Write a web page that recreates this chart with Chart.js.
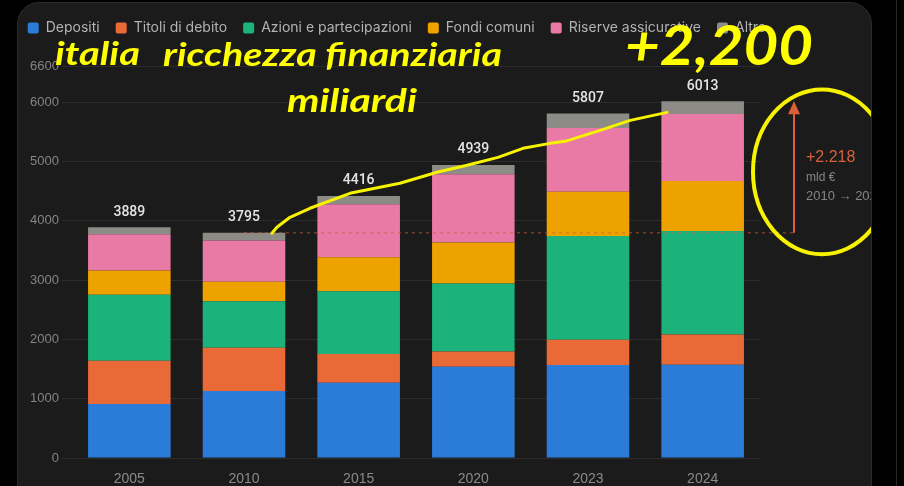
<!DOCTYPE html>
<html lang="it">
<head>
<meta charset="utf-8">
<title>Italia ricchezza finanziaria</title>
<script src="https://cdn.jsdelivr.net/npm/chart.js@4.4.1/dist/chart.umd.min.js"></script>
<style>
  html, body { margin: 0; padding: 0; background: #000; width: 904px; height: 486px; overflow: hidden; }
  #card { position: absolute; left: 17px; top: 2px; width: 853px; height: 510px; background: #1b1b1b;
          border: 1px solid #2b2b2b; border-radius: 22px; overflow: hidden; }
  #wrap { position: absolute; left: -18px; top: -3px; width: 904px; height: 486px; }
  #overlay { position: absolute; left: 0; top: 0; width: 904px; height: 486px; pointer-events: none; }
  .note { position: absolute; color: #ffff00; font-family: Lato, "Open Sans", sans-serif; font-weight: 700;
          font-style: italic; white-space: nowrap; line-height: 1; transform-origin: 0 0; }
  #edge { position: absolute; left: 896px; top: 0; width: 1px; height: 486px; background: #262626; }
</style>
</head>
<body>
<div id="card">
  <div id="wrap"><canvas id="wealthChart"></canvas></div>
</div>
<div id="edge"></div>
<div id="overlay">
  <div class="note" data-w="85" style="left:55px; top:37px; font-size:32px;">italia</div>
  <div class="note" data-w="339" style="left:163px; top:38px; font-size:32px;">ricchezza finanziaria</div>
  <div class="note" data-w="130" style="left:287px; top:84px; font-size:32px;">miliardi</div>
  <div class="note" data-w="188" style="left:625px; top:16px; font-size:56px;">+2,200</div>
</div>
<script>
// Ricchezza finanziaria delle famiglie, miliardi di euro
const years = ['2005', '2010', '2015', '2020', '2023', '2024'];
const depositi = [910, 1128, 1268, 1538, 1566, 1571];
const titoli = [730, 729, 483, 258, 426, 511];
const azioni = [1110, 786, 1060, 1145, 1751, 1745];
const fondi = [410, 326, 573, 690, 746, 842];
const riserve = [610, 695, 892, 1150, 1072, 1128];
const altro = [119, 131, 140, 158, 246, 216];
const totali = [3889, 3795, 4416, 4939, 5807, 6013];
const yTicks = [0, 1000, 2000, 3000, 4000, 5000, 6000, 6600];

const seriesNames = ['Depositi', 'Titoli di debito', 'Azioni e partecipazioni', 'Fondi comuni', 'Riserve assicurative', 'Altro'];
const seriesColors = ['#2b7bd9', '#e96a37', '#1bb27b', '#eea200', '#e97aa6', '#8c8b86'];

// growth note, 2010 -> 2024
const deltaText = '+2.218';
const deltaUnit = 'mld €';
const deltaSpan = '2010 → 2024';

// hand-drawn yellow marks: [category position, value]
const scribble = [
    [1.243, 3788], [1.287, 3889], [1.401, 4057], [1.575, 4209], [1.924, 4461],
    [2.360, 4630], [2.683, 4815], [2.945, 4933], [3.215, 5067], [3.433, 5219],
    [3.669, 5303], [3.800, 5337], [4.106, 5522], [4.368, 5690], [4.690, 5825]
];
const ellipseRange = [3434, 6212];

const values = [depositi, titoli, azioni, fondi, riserve, altro];

// totals above each bar
const totalsPlugin = {
    id: 'totals',
    afterDatasetsDraw(chart) {
        const ctx = chart.ctx;
        const meta = chart.getDatasetMeta(chart.data.datasets.length - 1);
        ctx.save();
        ctx.font = '500 14px Roboto';
        ctx.fillStyle = '#e4e4e4';
        ctx.textAlign = 'center';
        ctx.textBaseline = 'middle';
        meta.data.forEach((bar, i) => ctx.fillText(totali[i], bar.x, bar.y - 15));
        ctx.restore();
    }
};

// dashed baseline, arrow, note and the yellow marks
const notesPlugin = {
    id: 'notes',
    afterDraw(chart) {
        const ctx = chart.ctx;
        const x = chart.scales.x;
        const y = chart.scales.y;
        const area = chart.chartArea;
        const arrowX = area.right + 34;
        const baseY = y.getPixelForValue(totali[1]);
        const topY = y.getPixelForValue(totali[5]);

        ctx.save();
        ctx.strokeStyle = 'rgba(205, 95, 55, 0.75)';
        ctx.lineWidth = 1;
        ctx.setLineDash([3, 4]);
        ctx.beginPath();
        ctx.moveTo(x.getPixelForValue(1), baseY);
        ctx.lineTo(arrowX, baseY);
        ctx.stroke();
        ctx.setLineDash([]);

        ctx.strokeStyle = '#d9603a';
        ctx.fillStyle = '#d9603a';
        ctx.lineWidth = 2;
        ctx.beginPath();
        ctx.moveTo(arrowX, baseY);
        ctx.lineTo(arrowX, topY + 12);
        ctx.stroke();
        ctx.beginPath();
        ctx.moveTo(arrowX, topY);
        ctx.lineTo(arrowX - 6, topY + 13);
        ctx.lineTo(arrowX + 6, topY + 13);
        ctx.closePath();
        ctx.fill();

        ctx.textAlign = 'left';
        ctx.textBaseline = 'middle';
        ctx.font = '16px "Liberation Sans"';
        ctx.fillText(deltaText, arrowX + 12, topY + 56);
        ctx.fillStyle = '#858585';
        ctx.font = '12px "Liberation Sans"';
        ctx.fillText(deltaUnit, arrowX + 12, topY + 76);
        ctx.font = '13px "Liberation Sans"';
        ctx.fillText(deltaSpan, arrowX + 12, topY + 95);

        ctx.strokeStyle = '#f7f300';
        ctx.lineWidth = 4;
        const eTop = y.getPixelForValue(ellipseRange[1]);
        const eBottom = y.getPixelForValue(ellipseRange[0]);
        ctx.beginPath();
        ctx.ellipse(area.right + 62, (eTop + eBottom) / 2, 69, (eBottom - eTop) / 2, 0, 0, Math.PI * 2);
        ctx.stroke();

        ctx.lineWidth = 3;
        ctx.lineJoin = 'round';
        ctx.lineCap = 'round';
        ctx.beginPath();
        scribble.forEach(([c, v], i) => {
            const px = x.getPixelForValue(c);
            const py = y.getPixelForValue(v);
            if (i === 0) ctx.moveTo(px, py); else ctx.lineTo(px, py);
        });
        ctx.stroke();
        ctx.restore();
    }
};

const ctx = document.getElementById('wealthChart').getContext('2d');
new Chart(ctx, {
    type: 'bar',
    data: {
        labels: years,
        datasets: seriesNames.map((name, i) => ({
            label: name,
            data: values[i],
            backgroundColor: seriesColors[i],
            borderWidth: 0
        }))
    },
    options: {
        responsive: true,
        maintainAspectRatio: false,
        animation: false,
        layout: { padding: { top: 5, left: 0, right: 110, bottom: 0 } },
        plugins: {
            legend: {
                labels: {
                    color: '#b3b3b3',
                    font: { family: 'Inter', size: 14 },
                    boxWidth: 11,
                    boxHeight: 11,
                    padding: 16,
                    useBorderRadius: true,
                    borderRadius: 2
                }
            },
            title: { display: true, text: ' ', weight: 500, padding: { top: 0, bottom: 7 }, font: { size: 12 } },
            tooltip: { enabled: false }
        },
        scales: {
            x: {
                stacked: true,
                grid: { display: false, drawTicks: false },
                border: { display: false },
                ticks: { color: '#8a8a8a', font: { family: 'Liberation Sans', size: 14 }, padding: 13 },
                afterFit: scale => { scale.height = 28; }
            },
            y: {
                stacked: true,
                min: 0,
                max: 6600,
                afterBuildTicks: scale => { scale.ticks = yTicks.map(v => ({ value: v })); },
                afterFit: scale => { scale.width = 72; },
                grid: { color: '#2c2c2c', tickColor: '#2c2c2c', tickLength: 10 },
                border: { display: false },
                ticks: {
                    color: '#858585',
                    font: { family: 'Liberation Sans', size: 13 },
                    padding: 3,
                    callback: v => String(v)
                }
            },
            // empty strip that holds the space for the arrow note
            side: {
                position: 'right',
                grid: { display: false, drawTicks: false },
                border: { display: false },
                ticks: { display: false },
                afterFit: scale => { scale.width = 34; }
            }
        }
    },
    plugins: [totalsPlugin, notesPlugin]
});

// squeeze the yellow notes to the width they have in the picture
document.querySelectorAll('.note').forEach(el => {
    const w = el.getBoundingClientRect().width;
    el.style.transform = `scaleX(${Number(el.dataset.w) / w})`;
});
</script>
</body>
</html>
